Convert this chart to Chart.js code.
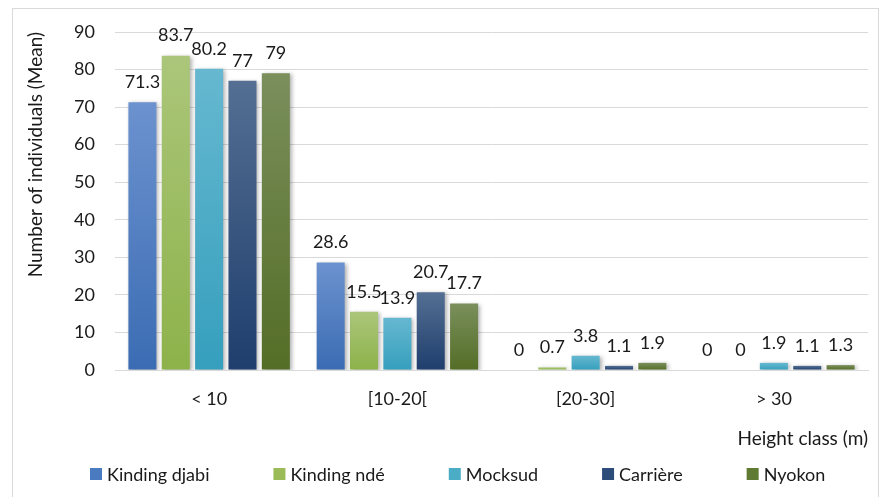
<!DOCTYPE html>
<html>
<head>
<meta charset="utf-8">
<script src="https://cdn.jsdelivr.net/npm/chart.js@4.4.1/dist/chart.umd.min.js"></script>
<style>
  html, body { margin: 0; padding: 0; background: #fff; }
  #wrap { position: relative; width: 881px; height: 497px; }
</style>
</head>
<body>
<div id="wrap"><canvas id="chart" width="881" height="497"></canvas></div>
<script>
const categories = ['< 10', '[10-20[', '[20-30]', '> 30'];
const siteNames = ['Kinding djabi', 'Kinding ndé', 'Mocksud', 'Carrière', 'Nyokon'];
const kindingDjabi = [71.3, 28.6, 0, 0];
const kindingNde = [83.7, 15.5, 0.7, 0];
const mocksud = [80.2, 13.9, 3.8, 1.9];
const carriere = [77, 20.7, 1.1, 1.1];
const nyokon = [79, 17.7, 1.9, 1.3];
const yTicks = [0, 10, 20, 30, 40, 50, 60, 70, 80, 90];

// top / bottom colours of each bar gradient, plus a flat one for the legend
const palette = [
  { top: '#6c92cf', bottom: '#3b6cb3', flat: '#4a7bc0' },
  { top: '#abc67a', bottom: '#8db24a', flat: '#9bbb59' },
  { top: '#66b8d0', bottom: '#359fbd', flat: '#4bacc6' },
  { top: '#546f93', bottom: '#1f3e6d', flat: '#2c4d7a' },
  { top: '#7a8f5c', bottom: '#546d26', flat: '#5f7a33' },
];

const FONT = 'Lato, "Liberation Sans", sans-serif';
const TEXT = '#1a1a1a';
const seriesValues = [kindingDjabi, kindingNde, mocksud, carriere, nyokon];

function barFill(i) {
  return (c) => {
    const chart = c.chart;
    if (c.type !== 'data' || !chart.chartArea || !chart.scales.y) return palette[i].flat;
    const y = chart.scales.y;
    const top = y.getPixelForValue(c.raw);
    const bot = y.getPixelForValue(0);
    if (bot - top < 2) return palette[i].bottom;
    const g = chart.ctx.createLinearGradient(0, top, 0, bot);
    g.addColorStop(0, palette[i].top);
    g.addColorStop(1, palette[i].bottom);
    return g;
  };
}

// soft shadow behind bars
const barShadow = {
  id: 'barShadow',
  beforeDatasetsDraw(chart) {
    const ctx = chart.ctx;
    ctx.save();
    ctx.shadowColor = 'rgba(0,0,0,0.3)';
    ctx.shadowBlur = 4;
    ctx.shadowOffsetX = 2;
    ctx.shadowOffsetY = 1;
  },
  afterDatasetsDraw(chart) {
    chart.ctx.restore();
  }
};

// value labels above bars
const valueLabels = {
  id: 'valueLabels',
  afterDatasetsDraw(chart) {
    const ctx = chart.ctx;
    ctx.save();
    ctx.font = '18px ' + FONT;
    ctx.fillStyle = TEXT;
    ctx.textAlign = 'center';
    ctx.textBaseline = 'middle';
    chart.data.datasets.forEach((ds, i) => {
      chart.getDatasetMeta(i).data.forEach((bar, j) => {
        ctx.fillText(String(ds.data[j]), bar.x, bar.y - 20);
      });
    });
    ctx.restore();
  }
};

// outer frame + bottom legend
const frameAndLegend = {
  id: 'frameAndLegend',
  afterDraw(chart) {
    const ctx = chart.ctx;
    ctx.save();
    ctx.strokeStyle = '#d9d9d9';
    ctx.lineWidth = 1;
    ctx.strokeRect(12.5, 8.5, 866, 500);
    ctx.font = '18px ' + FONT;
    ctx.textBaseline = 'middle';
    ctx.textAlign = 'left';
    let x = 90;
    const y = 474;
    chart.data.datasets.forEach((ds, i) => {
      ctx.fillStyle = palette[i].flat;
      ctx.fillRect(x, y - 6, 12, 12);
      ctx.fillStyle = TEXT;
      ctx.fillText(ds.label, x + 17, y + 1);
      x += 17 + ctx.measureText(ds.label).width + 64;
    });
    ctx.restore();
  }
};

new Chart(document.getElementById('chart'), {
  type: 'bar',
  data: {
    labels: categories,
    datasets: siteNames.map((name, i) => ({
      label: name,
      data: seriesValues[i],
      backgroundColor: barFill(i),
      borderWidth: 0,
      categoryPercentage: 0.886,
      barPercentage: 0.84,
    })),
  },
  options: {
    responsive: false,
    animation: false,
    layout: { padding: { left: 10, right: 13, top: 32, bottom: 46 } },
    plugins: {
      legend: { display: false },
      tooltip: { enabled: false },
    },
    scales: {
      x: {
        afterFit(scale) { scale.height = 81; },
        grid: { display: false, drawTicks: false },
        border: { color: '#d9d9d9' },
        ticks: { color: TEXT, font: { family: FONT, size: 18 }, padding: 18 },
        title: {
          display: true,
          text: 'Height class (m)',
          align: 'end',
          color: TEXT,
          font: { family: FONT, size: 19 },
          padding: { top: 0, bottom: 1 },
        },
      },
      y: {
        min: 0,
        max: 90,
        afterBuildTicks(scale) {
          scale.ticks = yTicks.map(v => ({ value: v }));
        },
        afterFit(scale) { scale.width = 105; },
        grid: { color: '#d9d9d9', drawTicks: false },
        border: { display: false },
        ticks: { color: TEXT, font: { family: FONT, size: 18 }, padding: 20 },
        title: {
          display: true,
          text: 'Number of individuals (Mean)',
          align: 'end',
          color: TEXT,
          font: { family: FONT, size: 19 },
          padding: { top: 14, bottom: 0 },
        },
      },
    },
  },
  plugins: [barShadow, valueLabels, frameAndLegend],
});
</script>
</body>
</html>
